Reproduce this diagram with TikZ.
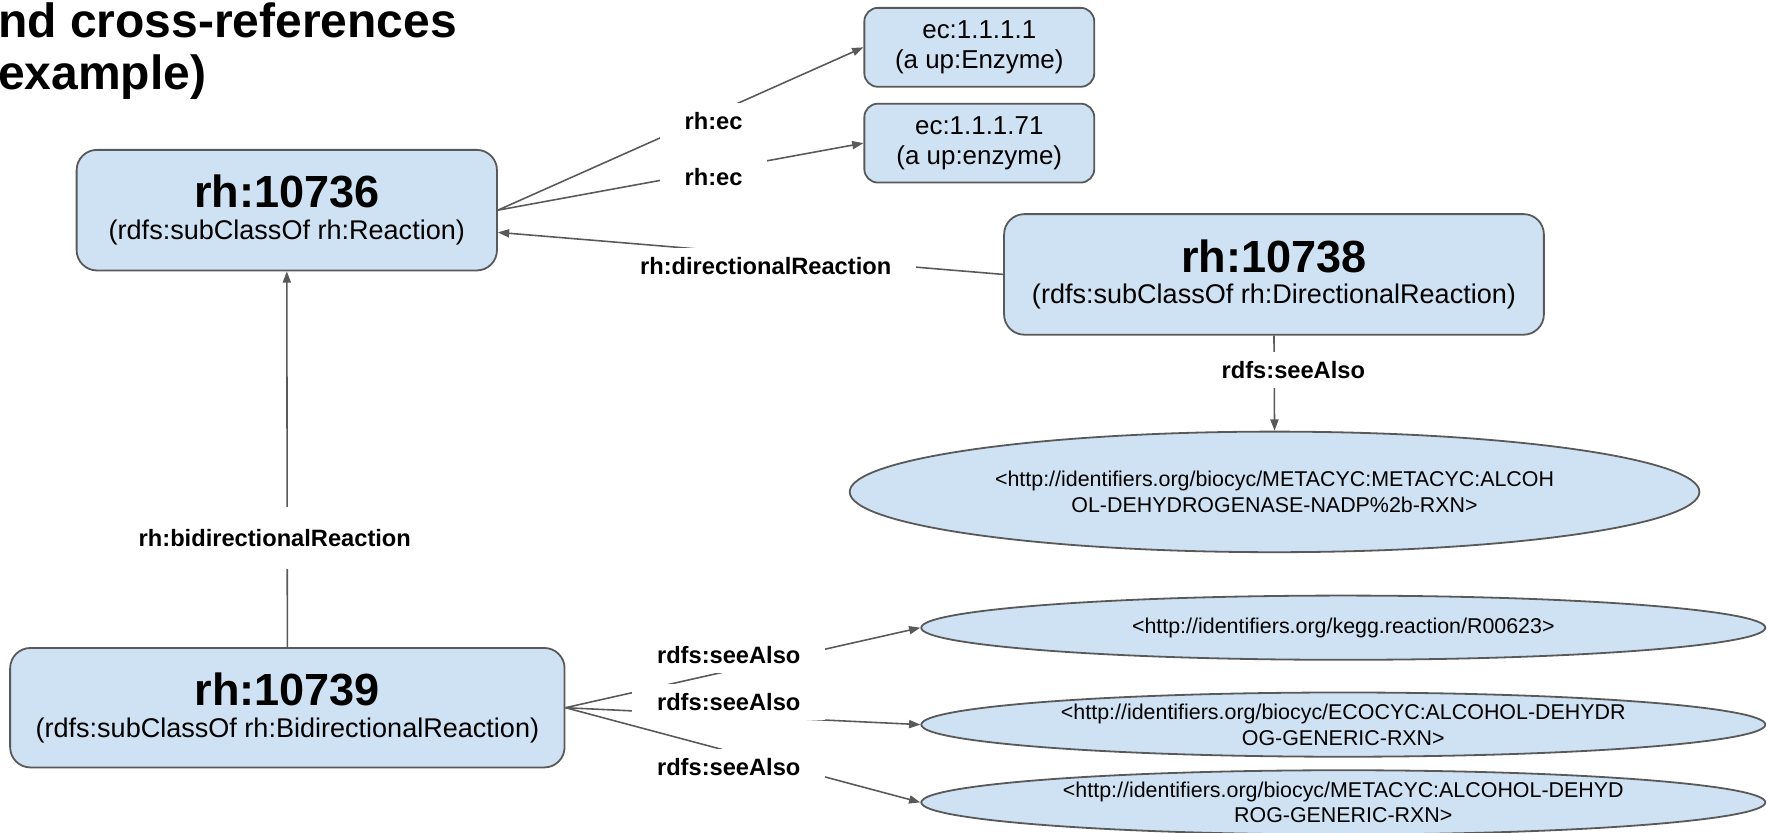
\documentclass[tikz,border=0pt]{standalone}
\usepackage{fontspec}
\setmainfont{Liberation Sans}
\usetikzlibrary{shapes.geometric, arrows.meta, positioning}
\definecolor{boxblue}{HTML}{CFE2F3}
\definecolor{linegray}{HTML}{595959}
\tikzset{
  cls/.style={draw=linegray, line width=0.8pt, fill=boxblue, rounded corners=9pt,
    inner sep=0pt, align=center, font=\fontsize{12}{14}\selectfont},
  ecbox/.style={draw=linegray, line width=0.8pt, fill=boxblue, rounded corners=6pt,
    inner sep=0pt, minimum width=102pt, minimum height=35pt, align=center,
    font=\fontsize{11.5}{13.5}\selectfont},
  uri/.style={ellipse, draw=linegray, line width=0.8pt, fill=boxblue, inner sep=0pt,
    inner ysep=-4pt, align=center, font=\fontsize{9.5}{11.5}\selectfont},
  lbl/.style={fill=white, inner xsep=11pt, inner ysep=4pt,
    font=\fontsize{10.5}{12}\selectfont\bfseries},
  arr/.style={draw=linegray, line width=0.7pt, -{Triangle[length=5pt,width=3.6pt]}},
}
\newcommand{\clsname}[1]{{\fontsize{20}{24}\selectfont\bfseries #1}}

\begin{document}
\begin{tikzpicture}[x=0.5pt, y=-0.5pt]
    \useasboundingbox (0,0) rectangle (1568,739);
    \node[anchor=north west, inner sep=0pt, align=left,
      font=\fontsize{21.3}{23}\selectfont\bfseries] (title) at (-2,2) {nd cross-references\\example)};
    \node[cls, minimum width=186.5pt, minimum height=53.5pt] (rh10736) at (254.5,186.5)
      {\clsname{rh:10736}\\(rdfs:subClassOf rh:Reaction)};
    \node[cls, minimum width=239.5pt, minimum height=53.5pt] (rh10738) at (1130.5,243.5)
      {\clsname{rh:10738}\\(rdfs:subClassOf rh:DirectionalReaction)};
    \node[cls, minimum width=246pt, minimum height=53pt] (rh10739) at (255,628)
      {\clsname{rh:10739}\\(rdfs:subClassOf rh:BidirectionalReaction)};
    \node[ecbox] (ec1) at (869,42) {ec:1.1.1.1\\(a up:Enzyme)};
    \node[ecbox] (ec2) at (869,127) {ec:1.1.1.71\\(a up:enzyme)};
    \node[uri, minimum width=377pt, minimum height=53.5pt] (nadp) at (1131,436.5)
      {<http://identifiers.org/biocyc/METACYC:METACYC:ALCOH\\OL-DEHYDROGENASE-NADP\%2b-RXN>};
    \node[uri, minimum width=374.5pt, minimum height=28.5pt] (kegg) at (1192,557)
      {<http://identifiers.org/kegg.reaction/R00623>};
    \node[uri, minimum width=374.5pt, minimum height=28.5pt] (ecocyc) at (1192,643)
      {<http://identifiers.org/biocyc/ECOCYC:ALCOHOL-DEHYDR\\OG-GENERIC-RXN>};
    \node[uri, minimum width=374.5pt, minimum height=28.5pt] (metacyc) at (1192,712)
      {<http://identifiers.org/biocyc/METACYC:ALCOHOL-DEHYD\\ROG-GENERIC-RXN>};
    % edges
    \draw[arr] (rh10736.east) to node[lbl, pos=0.59, yshift=-3pt] {rh:ec} (ec1.west);
    \draw[arr] (rh10736.east) to node[lbl, pos=0.59, yshift=-3pt] {rh:ec} (ec2.west);
    \draw[arr] (rh10738.west) to node[lbl, pos=0.47, yshift=-5pt] {rh:directionalReaction} (rh10736.-6.6);
    \draw[arr] (rh10739.north) to node[lbl, pos=0.29, xshift=-5.5pt, inner ysep=10pt] {rh:bidirectionalReaction} (rh10736.south);
    \draw[arr] (rh10738.south) to node[lbl, pos=0.36, xshift=8.5pt] {rdfs:seeAlso} (nadp.north);
    \draw[arr] (rh10739.east) to node[lbl, pos=0.46, yshift=7pt] {rdfs:seeAlso} (kegg.west);
    \draw[arr] (rh10739.east) to node[lbl, pos=0.46, yshift=6pt] {rdfs:seeAlso} (ecocyc.west);
    \draw[arr] (rh10739.east) to node[lbl, pos=0.46, yshift=-7pt] {rdfs:seeAlso} (metacyc.west);
\end{tikzpicture}
\end{document}
